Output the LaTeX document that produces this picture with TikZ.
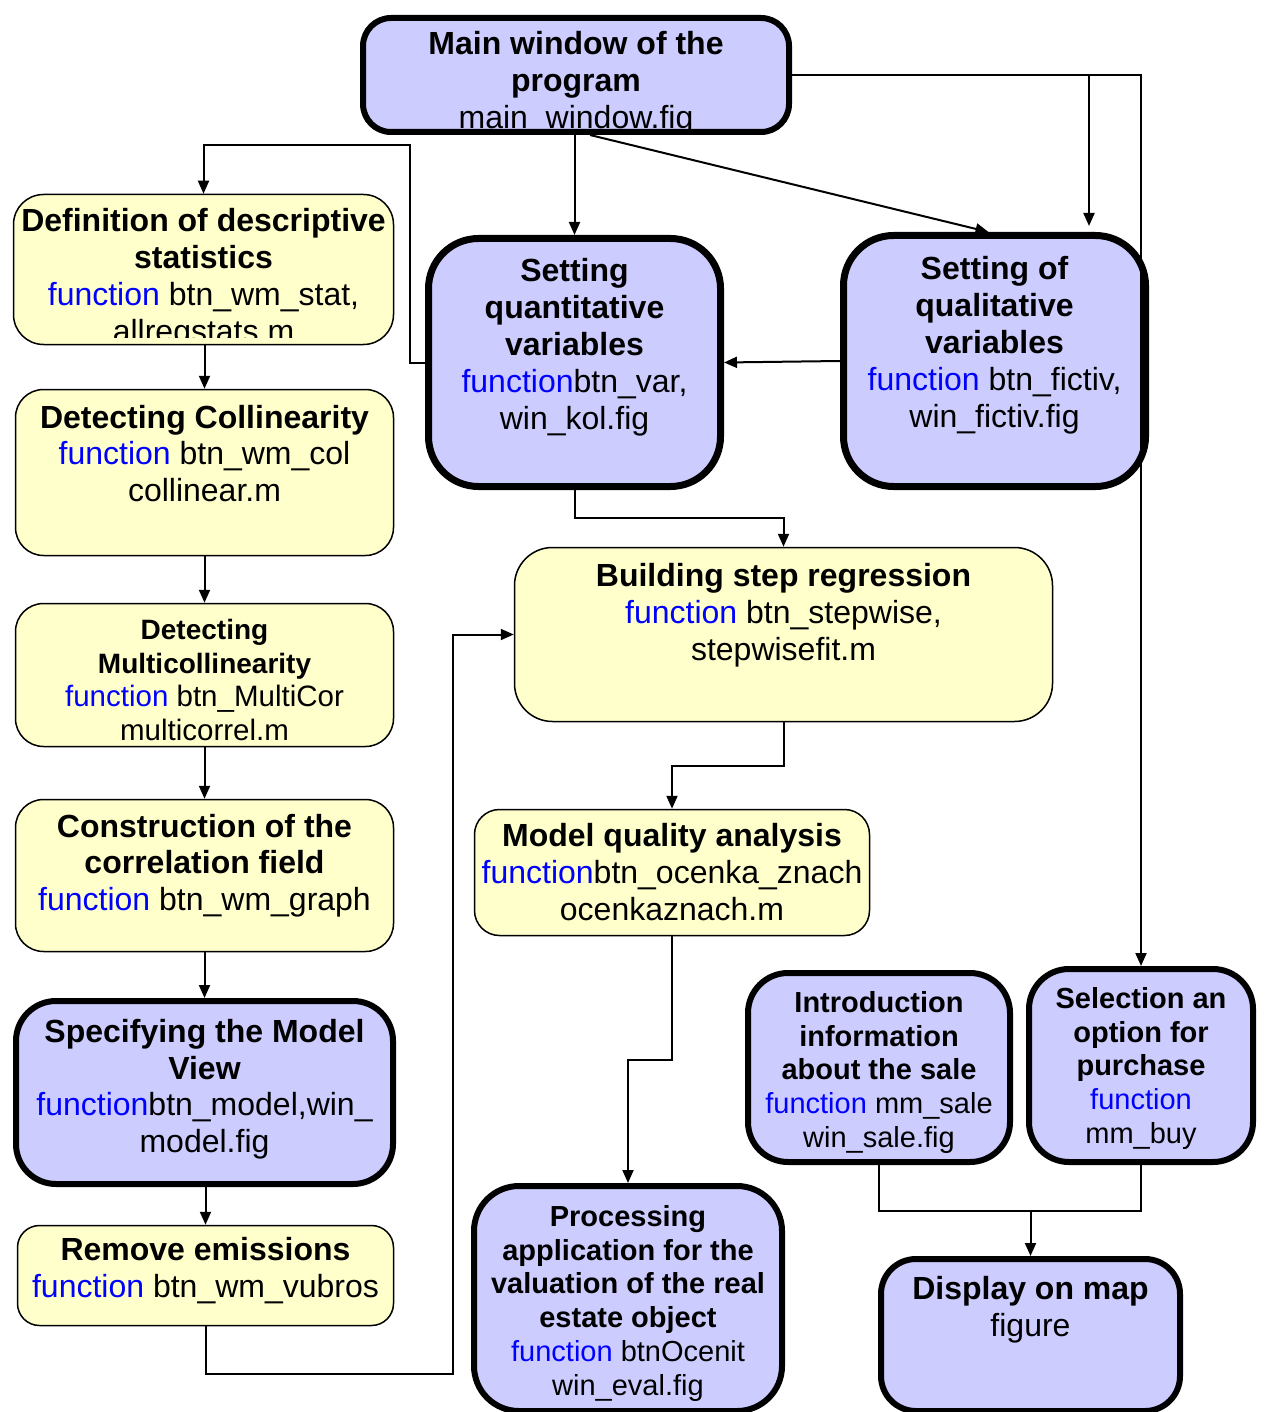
\documentclass[tikz,border=0pt]{standalone}
\usepackage{fontspec}
\setmainfont{Liberation Sans}
\usetikzlibrary{arrows.meta,calc}
\definecolor{boxyellow}{HTML}{FFFFCC}
\definecolor{boxlav}{HTML}{CCCCFF}
\definecolor{fnblue}{HTML}{0000FF}
\newcommand\fn[1]{\textcolor{fnblue}{#1}}
\begin{document}
\begin{tikzpicture}[x=1pt,y=-1pt,
  ybox/.style={rectangle, draw=black, line width=1.5pt, fill=boxyellow},
  pbox/.style={rectangle, draw=black, line width=6pt, fill=boxlav},
  conn/.style={line width=2pt},
  arr/.style={line width=2pt, -{Triangle[length=13pt,width=11pt]}},
  txt/.style={align=center, inner sep=0pt, anchor=north},
  fA/.style={font=\fontsize{32}{37}\selectfont},
  fB/.style={font=\fontsize{28}{33.7}\selectfont},
  fC/.style={font=\fontsize{29}{33.8}\selectfont}]
\useasboundingbox (0,0) rectangle (1267,1412);

% boxes
\node[pbox, rounded corners=28pt, minimum width=426pt, minimum height=114pt] (main) at (576,75) {};
\node[ybox, rounded corners=30pt, minimum width=380pt, minimum height=150pt] (defstat) at (203.5,269.5) {};
\node[pbox, line width=7pt, rounded corners=50pt, minimum width=292pt, minimum height=248pt] (quant) at (574.5,362.5) {};
\node[pbox, line width=7pt, rounded corners=50pt, minimum width=302pt, minimum height=251pt] (qual) at (994.5,361) {};
\node[ybox, rounded corners=28pt, minimum width=378pt, minimum height=166pt] (colin) at (204.5,472.5) {};
\node[ybox, rounded corners=28pt, minimum width=378pt, minimum height=143pt] (multi) at (204.5,675) {};
\node[ybox, rounded corners=28pt, minimum width=378pt, minimum height=152pt] (constr) at (204.5,875.5) {};
\node[pbox, rounded corners=40pt, minimum width=377pt, minimum height=183pt] (spec) at (204.5,1092.5) {};
\node[ybox, rounded corners=22pt, minimum width=376pt, minimum height=100pt] (remove) at (205.5,1275.5) {};
\node[ybox, rounded corners=38pt, minimum width=538pt, minimum height=174pt] (build) at (783.5,634.5) {};
\node[ybox, rounded corners=25pt, minimum width=395pt, minimum height=126pt] (mq) at (672,872.5) {};
\node[pbox, rounded corners=45pt, minimum width=308pt, minimum height=225pt] (proc) at (628,1298.5) {};
\node[pbox, rounded corners=40pt, minimum width=262pt, minimum height=189pt] (intro) at (879,1067.5) {};
\node[pbox, rounded corners=40pt, minimum width=224pt, minimum height=193pt] (sel) at (1141,1065.5) {};
\node[pbox, rounded corners=35pt, minimum width=299pt, minimum height=152pt] (disp) at (1030.5,1335) {};

% helper coordinates
\coordinate (c1) at (410,145);
\coordinate (c2) at (453,1374);
\coordinate (c4) at (1030.5,1211);
\coordinate (c5) at (1089,75);

% connectors
\draw[arr] (quant.north |- main.south) -- (quant.north);
\draw[arr] ([xshift=14pt]main.south) -- ([xshift=-6pt]qual.north);
\draw[arr] (main.east) -| (sel.north);
\draw[arr] (c5) -- ([yshift=6pt]c5 |- qual.north);
\draw[arr] (quant.west) -| (c1) -| (defstat.north);
\draw[arr] (colin.north |- defstat.south) -- (colin.north);
\draw[arr] (colin.south) -- (multi.north);
\draw[arr] (multi.south) -- (constr.north);
\draw[arr] (constr.south) -- (spec.north);
\draw[arr] (remove.north |- spec.south) -- (remove.north);
\draw[arr] (remove.south) |- (c2) |- (build.west);
\draw[arr] (qual.west) -- (quant.east);
\draw[arr] (quant.south) -- ++(0,28) -| (build.north);
\draw[arr] (build.south) -- ++(0,44) -| (mq.north);
\draw[arr] (mq.south) -- ++(0,124) -| (proc.north);
\draw[conn] (intro.south) |- (c4) -| (sel.south);
\draw[arr] (c4) -- (disp.north);

% texts
\begin{scope}
\clip (363,18) rectangle (789,129);
\node[txt, fA] (tmain) at (576,31) {\textbf{Main window of the}\\\textbf{program}\\main\_window.fig};
\end{scope}
\begin{scope}
\clip (13,194) rectangle (394,337);
\node[txt, fA] (tdef) at (203.5,208) {\textbf{Definition of descriptive}\\\textbf{statistics}\\\fn{function} btn\_wm\_stat,\\allregstats.m};
\end{scope}
\node[txt, fA] (tquant) at (574.5,258) {\textbf{Setting}\\\textbf{quantitative}\\\textbf{variables}\\\fn{function}btn\_var,\\win\_kol.fig};
\node[txt, fA] (tqual) at (994.5,256) {\textbf{Setting of}\\\textbf{qualitative}\\\textbf{variables}\\\fn{function} btn\_fictiv,\\win\_fictiv.fig};
\node[txt, fA, font=\fontsize{32}{36.5}\selectfont] (tcolin) at (204.5,405) {\textbf{Detecting Collinearity}\\\fn{function} btn\_wm\_col\\collinear.m};
\node[txt, fB] (tmulti) at (204.5,619) {\textbf{Detecting}\\\textbf{Multicollinearity}\\{\fontsize{29.5}{33.7}\selectfont\fn{function} btn\_MultiCor}\\{\fontsize{29.5}{33.7}\selectfont multicorrel.m}};
\node[txt, fA, font=\fontsize{32}{36.5}\selectfont] (tconstr) at (204.5,814) {\textbf{Construction of the}\\\textbf{correlation field}\\\fn{function} btn\_wm\_graph};
\node[txt, fA, font=\fontsize{32}{36.7}\selectfont] (tspec) at (204.5,1019) {\textbf{Specifying the Model}\\\textbf{View}\\\fn{function}btn\_model,win\_\\model.fig};
\node[txt, fA] (tremove) at (205.5,1237) {\textbf{Remove emissions}\\\fn{function} btn\_wm\_vubros};
\node[txt, fA] (tbuild) at (783.5,563) {\textbf{Building step regression}\\\fn{function} btn\_stepwise,\\stepwisefit.m};
\node[txt, fA] (tmq) at (672,823) {\textbf{Model quality analysis}\\\fn{function}btn\_ocenka\_znach\\ocenkaznach.m};
\begin{scope}
\clip (474,1186) rectangle (782,1401);
\node[txt, fC] (tproc) at (628,1205) {\textbf{Processing}\\\textbf{application for the}\\\textbf{valuation of the real}\\\textbf{estate object}\\\fn{function} btnOcenit\\win\_eval.fig};
\end{scope}
\node[txt, fC] (tintro) at (879,991) {\textbf{Introduction}\\\textbf{information}\\\textbf{about the sale}\\\fn{function} mm\_sale\\win\_sale.fig};
\node[txt, fC] (tsel) at (1141,987) {\textbf{Selection an}\\\textbf{option for}\\\textbf{purchase}\\\fn{function}\\mm\_buy};
\node[txt, fA] (tdisp) at (1030.5,1276) {\textbf{Display on map}\\figure};
\end{tikzpicture}
\end{document}
